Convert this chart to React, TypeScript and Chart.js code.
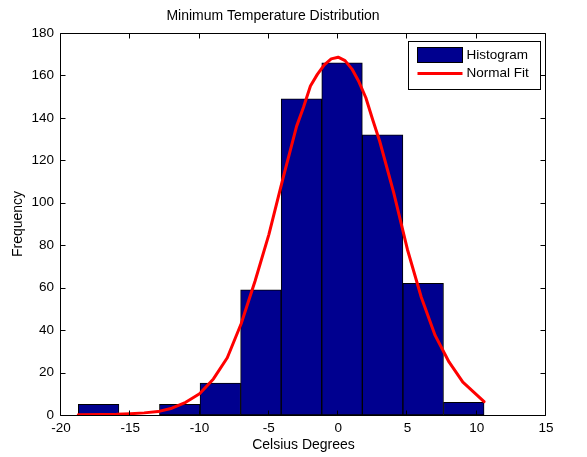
import React, { useEffect, useRef } from "react";
import { Chart, registerables } from "chart.js";

Chart.register(...registerables);

// Histogram bins (centres, in °C) and their counts
const binCenters = [-17.286, -14.358, -11.43, -8.502, -5.574, -2.646, 0.282, 3.21, 6.138, 9.066];
const binCounts = [5, 0, 5, 15, 59, 149, 166, 132, 62, 6];

// Fitted normal curve, sampled along the data range
const fitX = [-18.75, -17, -16, -15, -14, -13, -12, -11, -10, -9, -8, -7, -6, -5, -4, -3, -2.5, -2, -1.5, -1, -0.5, 0, 0.5, 1, 1.5, 2, 2.5, 3, 4, 5, 6, 7, 8, 9, 10, 10.53];
const fitY = [0.1, 0.2, 0.3, 0.6, 1.0, 1.6, 3.2, 6.0, 10, 17, 27, 43, 63, 85, 111, 136, 145, 155, 160.5, 165, 167.8, 168.6, 167, 163, 157, 149.5, 139, 129, 105, 78, 55.5, 37.5, 25, 15.5, 9.5, 6.3];

// Axis ranges and tick steps
const xRange = [-20, 15];
const xStep = 5;
const yRange = [0, 180];
const yStep = 20;

const legendLabels = ["Histogram", "Normal Fit"];

const FONT = "'Liberation Sans', Arial, Helvetica, sans-serif";
const BAR_COLOR = "rgb(0,0,143)";
const LINE_COLOR = "rgb(255,0,0)";

// Box around the axes with inward ticks on all four sides, plus the legend
const framePlugin = {
  id: "frame",
  afterDraw(chart: any) {
    const { ctx, chartArea: a, scales } = chart;
    const L = a.left - 0.5;
    const R = a.right - 0.5;
    const T = a.top + 0.5;
    const B = a.bottom + 0.5;
    const tick = 5;
    ctx.save();
    ctx.strokeStyle = "#000";
    ctx.lineWidth = 1;
    ctx.beginPath();
    ctx.rect(L, T, R - L, B - T);
    ctx.stroke();

    ctx.beginPath();
    for (const t of scales.x.ticks) {
      const px = Math.round(scales.x.getPixelForValue(t.value)) - 0.5;
      ctx.moveTo(px, B);
      ctx.lineTo(px, B - tick);
      ctx.moveTo(px, T);
      ctx.lineTo(px, T + tick);
    }
    for (const t of scales.y.ticks) {
      const py = Math.round(scales.y.getPixelForValue(t.value)) + 0.5;
      ctx.moveTo(L, py);
      ctx.lineTo(L + tick, py);
      ctx.moveTo(R, py);
      ctx.lineTo(R - tick, py);
    }
    ctx.stroke();

    // Legend
    const boxW = 132;
    const boxH = 48;
    const bx = Math.round(a.right - 6 - boxW) + 0.5;
    const by = Math.round(a.top + 8) + 0.5;
    ctx.fillStyle = "#fff";
    ctx.fillRect(bx, by, boxW, boxH);
    ctx.strokeStyle = "#000";
    ctx.strokeRect(bx, by, boxW, boxH);

    const sx = bx + 9;
    const sw = 45;
    ctx.fillStyle = BAR_COLOR;
    ctx.fillRect(sx, by + 6, sw, 15);
    ctx.strokeRect(sx, by + 6, sw, 15);

    ctx.strokeStyle = LINE_COLOR;
    ctx.lineWidth = 3;
    ctx.beginPath();
    ctx.moveTo(sx, by + 32);
    ctx.lineTo(sx + sw, by + 32);
    ctx.stroke();

    ctx.fillStyle = "#000";
    ctx.font = `13.5px ${FONT}`;
    ctx.textBaseline = "middle";
    ctx.textAlign = "left";
    ctx.fillText(legendLabels[0], sx + sw + 4, by + 14);
    ctx.fillText(legendLabels[1], sx + sw + 4, by + 32);
    ctx.restore();
  },
};

export default function App() {
  const canvasRef = useRef<HTMLCanvasElement | null>(null);

  useEffect(() => {
    const canvas = canvasRef.current;
    if (!canvas) return;
    const chart = new Chart(canvas, {
      type: "bar",
      data: {
        datasets: [
          {
            type: "line",
            label: legendLabels[1],
            data: fitX.map((x, i) => ({ x, y: fitY[i] })),
            borderColor: LINE_COLOR,
            borderWidth: 3,
            borderJoinStyle: "round",
            borderCapStyle: "round",
            pointRadius: 0,
            fill: false,
            tension: 0,
            order: 0,
          } as any,
          {
            type: "bar",
            label: legendLabels[0],
            data: binCenters.map((x, i) => ({ x, y: binCounts[i] })),
            backgroundColor: BAR_COLOR,
            borderColor: "#000",
            borderWidth: 1,
            borderSkipped: false,
            barPercentage: 1,
            categoryPercentage: 1,
            order: 1,
          } as any,
        ],
      },
      options: {
        responsive: false,
        animation: false,
        devicePixelRatio: 1,
        layout: { padding: { left: 0, right: 41, top: 0, bottom: 0 } },
        plugins: {
          legend: { display: false },
          tooltip: { enabled: false },
          title: {
            display: true,
            text: "Minimum Temperature Distribution",
            color: "#000",
            font: { family: FONT, size: 14, weight: "normal" },
            padding: { top: 8, bottom: 8.2 },
          },
        },
        scales: {
          x: {
            type: "linear",
            min: xRange[0],
            max: xRange[1],
            offset: false,
            grid: { display: false, drawTicks: false, offset: false },
            border: { display: false },
            ticks: {
              stepSize: xStep,
              color: "#000",
              padding: 5,
              font: { family: FONT, size: 13.5 },
              maxRotation: 0,
            },
            title: {
              display: true,
              text: "Celsius Degrees",
              color: "#000",
              font: { family: FONT, size: 14 },
              padding: { top: 0, bottom: 3.5 },
            },
            afterFit(scale: any) {
              scale.height = 42;
            },
          },
          y: {
            type: "linear",
            min: yRange[0],
            max: yRange[1],
            grid: { display: false, drawTicks: false },
            border: { display: false },
            ticks: {
              stepSize: yStep,
              color: "#000",
              padding: 7,
              font: { family: FONT, size: 13.5 },
            },
            title: {
              display: true,
              text: "Frequency",
              color: "#000",
              font: { family: FONT, size: 14 },
              padding: { top: 10, bottom: 0 },
            },
            afterFit(scale: any) {
              scale.width = 61;
            },
          },
        },
      } as any,
      plugins: [framePlugin],
    });
    return () => chart.destroy();
  }, []);

  return (
    <div style={{ position: "fixed", left: 0, top: 0, width: 587, height: 457, background: "#fff" }}>
      <canvas ref={canvasRef} width={587} height={457} />
    </div>
  );
}
